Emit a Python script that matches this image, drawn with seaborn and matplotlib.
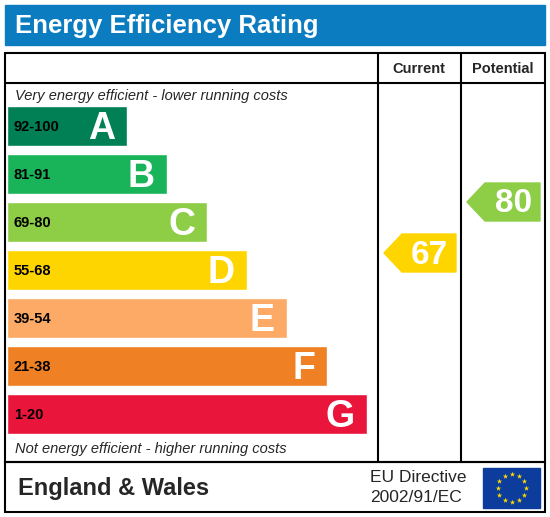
import matplotlib
matplotlib.use("Agg")
import matplotlib.pyplot as plt
import seaborn as sns
from matplotlib.patches import Rectangle, Polygon
import numpy as np

sns.set_theme(style="white")
plt.rcParams['font.family'] = ['Liberation Sans', 'DejaVu Sans']

bands = ["A", "B", "C", "D", "E", "F", "G"]
ranges = ["92-100", "81-91", "69-80", "55-68", "39-54", "21-38", "1-20"]
colors = ["#008054", "#19b459", "#8dce46", "#ffd500", "#fcaa65", "#ef8023", "#e9153b"]
current = 67
potential = 80
current_color = "#ffd500"
potential_color = "#8dce46"

fig = plt.figure(figsize=(5.5, 5.17), dpi=100)
ax = fig.add_axes([0, 0, 1, 1])
ax.set_xlim(0, 550)
ax.set_ylim(517, 0)
ax.axis("off")

# title bar
ax.add_patch(Rectangle((5, 5), 540, 40, color="#0c7cc0"))
ax.text(15, 26, "Energy Efficiency Rating", color="white", fontsize=18.5, fontweight="bold", va="center")

# frames
lw = 1.5
ax.add_patch(Rectangle((5, 53), 540, 409, fill=False, ec="black", lw=lw))
ax.add_patch(Rectangle((5, 462), 540, 50, fill=False, ec="black", lw=lw))
ax.plot([378, 378], [53, 462], color="black", lw=lw)
ax.plot([461, 461], [53, 462], color="black", lw=lw)
ax.plot([5, 545], [83, 83], color="black", lw=lw)
ax.text(419, 69, "Current", fontsize=10.5, fontweight="bold", ha="center", va="center")
ax.text(503, 69, "Potential", fontsize=10.5, fontweight="bold", ha="center", va="center")

ax.text(15, 96, "Very energy efficient - lower running costs", fontsize=10.5, style="italic", va="center")
ax.text(15, 449, "Not energy efficient - higher running costs", fontsize=10.5, style="italic", va="center")

centers = 126 + 48 * np.arange(len(bands))
widths = 120 + 40 * np.arange(len(bands))
ax.barh(centers, widths, left=7, height=40, color=colors)
for c, w, b, r in zip(centers, widths, bands, ranges):
    ax.text(14, c + 1, r, fontsize=10.5, fontweight="bold", va="center", color="black")
    ax.text(7 + w - 12, c + 3, b, fontsize=27, fontweight="bold", color="white", ha="right", va="center")

def arrow(x0, x1, yc, val, col):
    h = 19
    ax.add_patch(Polygon([(x0, yc), (x0 + 18, yc - h), (x1, yc - h), (x1, yc + h), (x0 + 18, yc + h)],
                         closed=True, color=col))
    ax.text(x1 - 8, yc + 2, str(val), fontsize=24, fontweight="bold", color="white", ha="right", va="center")

arrow(384, 456, 253, current, current_color)
arrow(467, 540, 202, potential, potential_color)

ax.text(18, 489, "England & Wales", fontsize=17, fontweight="bold", va="center")
ax.text(370, 478, "EU Directive", fontsize=12.5, va="center")
ax.text(370, 497, "2002/91/EC", fontsize=12.5, va="center")

# EU flag
ax.add_patch(Rectangle((483, 468), 57, 40, color="#0d3d9c"))
ang = np.linspace(0, 2 * np.pi, 12, endpoint=False)
ax.scatter(511.5 + 14 * np.cos(ang), 488 + 14 * np.sin(ang), marker="*", s=16, color="#ffdd00", linewidths=0)

fig.savefig("out.png", dpi=100)
